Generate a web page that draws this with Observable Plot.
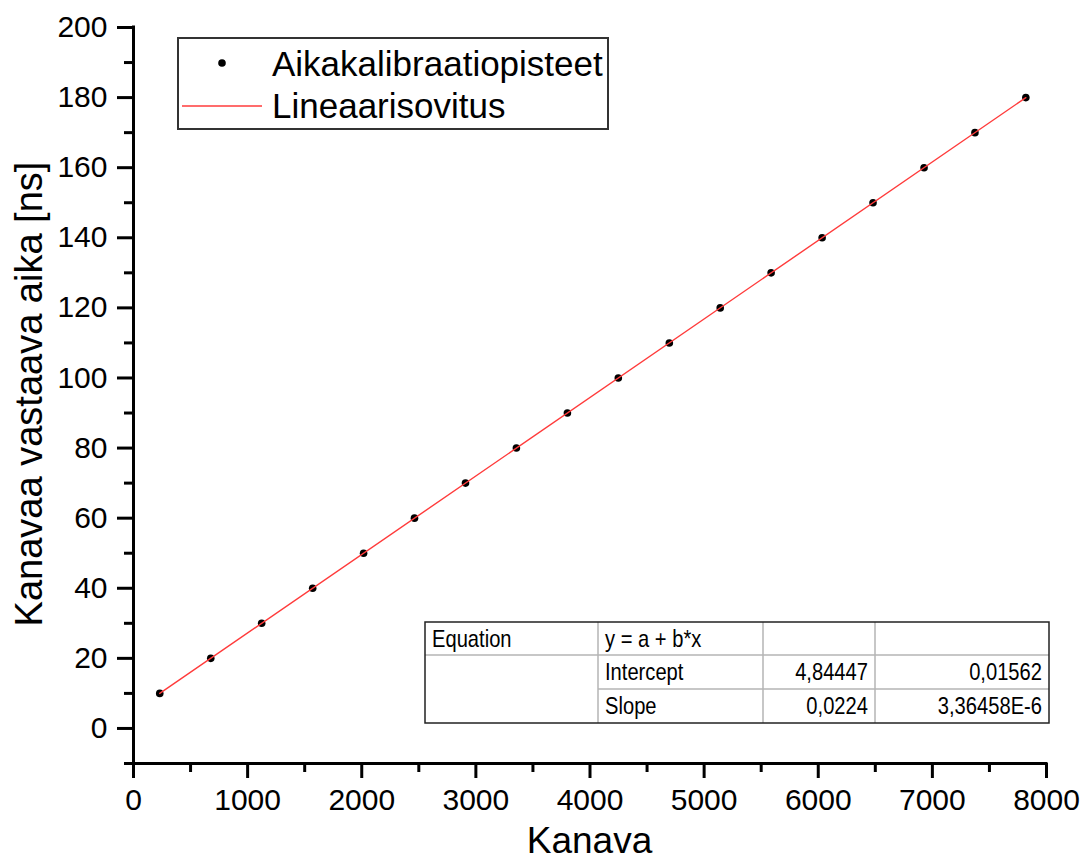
<!DOCTYPE html>
<html>
<head>
<meta charset="utf-8">
<script src="https://cdn.jsdelivr.net/npm/d3@7"></script>
<script src="https://cdn.jsdelivr.net/npm/@observablehq/plot@0.6"></script>
<style>
  html, body { margin: 0; padding: 0; background: #fff; }
  #chart { width: 1083px; height: 859px; }
  #chart svg g[aria-label*="tick"] path,
  #chart svg g[aria-label*="tick"] line,
  #chart svg g[aria-label="rule"] line { stroke-width: 3px !important; stroke: #000 !important; }
</style>
</head>
<body>
<div id="chart"></div>
<script>
// ---- data ----
const channel = [230, 677, 1123, 1570, 2016, 2462, 2909, 3355, 3802, 4248, 4695, 5141, 5587, 6034, 6480, 6927, 7373, 7819];
const timeNs  = [10, 20, 30, 40, 50, 60, 70, 80, 90, 100, 110, 120, 130, 140, 150, 160, 170, 180];

const xTicks = [0, 1000, 2000, 3000, 4000, 5000, 6000, 7000, 8000];
const xMinorTicks = [500, 1500, 2500, 3500, 4500, 5500, 6500, 7500];
const yTicks = [0, 20, 40, 60, 80, 100, 120, 140, 160, 180, 200];
const yMinorTicks = [-10, 10, 30, 50, 70, 90, 110, 130, 150, 170, 190];

const xLabel = "Kanava";
const yLabel = "Kanavaa vastaava aika [ns]";
const legendLabels = ["Aikakalibraatiopisteet", "Lineaarisovitus"];

const tableRows = [
  ["Equation", "y = a + b*x", "", ""],
  ["", "Intercept", "4,84447", "0,01562"],
  ["", "Slope", "0,0224", "3,36458E-6"]
];

const points = channel.map((c, i) => ({x: c, y: timeNs[i]}));
const fitColor = "#ff3b3b";
const font = "'Liberation Sans', Arial, sans-serif";

const svg = Plot.plot({
  width: 1083,
  height: 859,
  marginLeft: 133,
  marginRight: 37,
  marginTop: 27,
  marginBottom: 96,
  style: {fontFamily: font, background: "#fff", color: "#000", overflow: "visible"},
  x: {domain: [0, 8000]},
  y: {domain: [-10, 200]},
  marks: [
    Plot.axisX(xTicks, {tickSize: 15, tickPadding: 10, fontSize: 30, strokeWidth: 3, label: null, tickFormat: d => String(d)}),
    Plot.axisX(xMinorTicks, {tickSize: 9, strokeWidth: 3, text: null, label: null}),
    Plot.axisY(yTicks, {tickSize: 16, tickPadding: 10, fontSize: 30, strokeWidth: 3, label: null, tickFormat: d => String(d)}),
    Plot.axisY(yMinorTicks, {tickSize: 9, strokeWidth: 3, text: null, label: null}),
    Plot.ruleY([-10], {strokeWidth: 3, strokeLinecap: "square"}),
    Plot.ruleX([0], {strokeWidth: 3, strokeLinecap: "square"}),
    Plot.dot(points, {x: "x", y: "y", r: 3.8, fill: "#000", stroke: "none"}),
    Plot.linearRegressionY(points, {x: "x", y: "y", stroke: fitColor, strokeWidth: 1.4, ci: 0})
  ]
});

const root = d3.select(svg);
root.selectAll("g[aria-label$='tick'], g[aria-label='rule']").attr("stroke-width", 3)
  .selectAll("path, line").attr("stroke-width", 3);

// axis titles
root.append("text")
  .attr("x", 589.5).attr("y", 853)
  .attr("text-anchor", "middle")
  .style("font-family", font).style("font-size", "37px").attr("fill", "#000")
  .text(xLabel);
root.append("text")
  .attr("transform", "translate(42,394) rotate(-90)")
  .attr("text-anchor", "middle")
  .style("font-family", font).style("font-size", "38px").attr("fill", "#000")
  .text(yLabel);

// legend
const lg = root.append("g").attr("text-anchor", "start");
lg.append("rect").attr("x", 178).attr("y", 38).attr("width", 430).attr("height", 91)
  .attr("fill", "#fff").attr("stroke", "#333").attr("stroke-width", 2);
lg.append("circle").attr("cx", 222).attr("cy", 63).attr("r", 3.8).attr("fill", "#000");
lg.append("line").attr("x1", 182).attr("x2", 262).attr("y1", 106).attr("y2", 106)
  .attr("stroke", fitColor).attr("stroke-width", 1.4);
lg.append("text").attr("x", 272).attr("y", 76).attr("text-anchor", "start")
  .style("font-family", font).style("font-size", "35px").attr("fill", "#000").text(legendLabels[0]);
lg.append("text").attr("x", 272).attr("y", 118).attr("text-anchor", "start")
  .style("font-family", font).style("font-size", "35px").attr("fill", "#000").text(legendLabels[1]);

// fit table
const tb = root.append("g");
const colX = [425, 598, 763, 875, 1049];
const rowY = [622, 655, 689, 723];
tb.append("rect").attr("x", colX[0]).attr("y", rowY[0]).attr("width", colX[4] - colX[0]).attr("height", rowY[3] - rowY[0])
  .attr("fill", "#fff").attr("stroke", "none");
const grey = "#b4b4b4";
[1, 2, 3].forEach(i => tb.append("line").attr("x1", colX[i]).attr("x2", colX[i])
  .attr("y1", rowY[0]).attr("y2", rowY[3]).attr("stroke", grey).attr("stroke-width", 1.5));
tb.append("line").attr("x1", colX[0]).attr("x2", colX[4]).attr("y1", rowY[1]).attr("y2", rowY[1])
  .attr("stroke", grey).attr("stroke-width", 1.5);
tb.append("line").attr("x1", colX[1]).attr("x2", colX[4]).attr("y1", rowY[2]).attr("y2", rowY[2])
  .attr("stroke", grey).attr("stroke-width", 1.5);
tb.append("rect").attr("x", colX[0]).attr("y", rowY[0]).attr("width", colX[4] - colX[0]).attr("height", rowY[3] - rowY[0])
  .attr("fill", "none").attr("stroke", "#222").attr("stroke-width", 1.5);
const sx = 0.84;
tableRows.forEach((row, r) => {
  row.forEach((cell, c) => {
    if (!cell) return;
    const right = c >= 2;
    const tx = right ? colX[c + 1] - 7 : colX[c] + 7;
    tb.append("text")
      .attr("transform", `translate(${tx},${rowY[r] + 25}) scale(${sx},1)`)
      .attr("text-anchor", right ? "end" : "start")
      .style("font-family", font).style("font-size", "24px").attr("fill", "#000")
      .text(cell);
  });
});

document.getElementById("chart").appendChild(svg);
</script>
</body>
</html>
